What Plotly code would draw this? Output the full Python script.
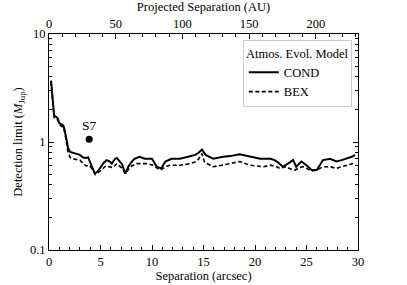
import plotly.graph_objects as go

# COND model detection limit
cond_x = [0.2, 0.35, 0.5, 0.65, 0.85, 1.0, 1.2, 1.4, 1.55, 1.7, 1.85, 2.05, 2.3, 2.5, 2.8, 3.0,
          3.3, 3.5, 3.8, 4.1, 4.45, 4.7, 4.95, 5.3, 5.6, 5.9, 6.1, 6.4, 6.6, 6.9, 7.1, 7.4, 7.7,
          8.0, 8.3, 8.8, 9.3, 10.0, 10.45, 10.9, 11.3, 11.9, 12.7, 13.5, 14.2, 14.5, 14.85, 15.2,
          15.5, 15.95, 16.9, 17.6, 18.5, 19.0, 19.5, 20.5, 21.5, 21.9, 22.3, 22.7, 23.2, 23.7,
          24.0, 24.5, 25.0, 25.5, 26.0, 26.6, 27.3, 27.9, 28.4, 28.9, 29.4, 29.7]
cond_y = [3.7, 2.5, 1.75, 1.72, 1.66, 1.5, 1.45, 1.42, 1.25, 1.0, 0.88, 0.81, 0.80, 0.79, 0.77, 0.76,
          0.72, 0.71, 0.72, 0.62, 0.51, 0.53, 0.57, 0.64, 0.68, 0.66, 0.63, 0.70, 0.71, 0.66, 0.62, 0.51, 0.59,
          0.65, 0.70, 0.73, 0.70, 0.70, 0.59, 0.57, 0.66, 0.70, 0.70, 0.73, 0.76, 0.79, 0.85, 0.76,
          0.73, 0.70, 0.73, 0.74, 0.77, 0.75, 0.73, 0.70, 0.70, 0.68, 0.64, 0.59, 0.63, 0.68,
          0.59, 0.66, 0.61, 0.55, 0.55, 0.68, 0.70, 0.66, 0.68, 0.70, 0.73, 0.76]

# BEX model detection limit
bex_x = [0.2, 0.35, 0.5, 0.65, 0.85, 1.0, 1.2, 1.4, 1.55, 1.7, 1.85, 2.05, 2.3, 2.6, 3.0, 3.3, 3.6,
         3.9, 4.2, 4.5, 4.8, 5.1, 5.5, 5.9, 6.2, 6.6, 6.9, 7.1, 7.4, 7.9, 8.5, 9.5, 10.1, 10.8, 11.2,
         11.7, 12.7, 13.7, 14.3, 14.55, 14.85, 15.1, 15.95, 16.9, 17.6, 18.5, 19.5, 20.8, 21.5, 22.1,
         22.4, 23.0, 23.5, 23.9, 24.3, 24.7, 25.1, 25.5, 26.0, 26.6, 27.3, 27.9, 28.4, 28.9, 29.5, 29.7]
bex_y = [3.6, 2.4, 1.68, 1.66, 1.6, 1.45, 1.4, 1.36, 1.2, 0.95, 0.8, 0.72, 0.70, 0.69, 0.68, 0.63, 0.60,
         0.61, 0.56, 0.50, 0.52, 0.55, 0.60, 0.59, 0.58, 0.63, 0.60, 0.57, 0.51, 0.59, 0.63, 0.63, 0.61, 0.55, 0.58,
         0.61, 0.61, 0.63, 0.66, 0.70, 0.78, 0.65, 0.59, 0.61, 0.63, 0.66, 0.61, 0.59, 0.61, 0.59,
         0.57, 0.59, 0.56, 0.55, 0.58, 0.59, 0.56, 0.54, 0.55, 0.59, 0.59, 0.57, 0.59, 0.61, 0.63, 0.64]

# Candidate S7
s7_x = [3.9]
s7_y = [1.06]
s7_label = ["S7"]

x_ticks = [0, 5, 10, 15, 20, 25, 30]
au_ticks = [0, 50, 100, 150, 200]
y_ticks = [0.1, 1, 10]
y_ticklabels = ["0.1", "1", "10"]
y_minor = [0.2, 0.3, 0.4, 0.5, 0.6, 0.7, 0.8, 0.9, 2, 3, 4, 5, 6, 7, 8, 9]
distance_pc = 7.72

FONT = "Liberation Serif, DejaVu Serif, serif"
FS = 12.5
fig = go.Figure()
fig.add_trace(go.Scatter(x=cond_x, y=cond_y, mode="lines", name="COND",
                         line=dict(color="black", width=2)))
fig.add_trace(go.Scatter(x=bex_x, y=bex_y, mode="lines", name="BEX",
                         line=dict(color="black", width=1.6, dash="4px,2.5px")))
fig.add_trace(go.Scatter(x=s7_x, y=s7_y, mode="markers", showlegend=False,
                         marker=dict(color="black", size=7)))
# invisible traces for top / right axes
fig.add_trace(go.Scatter(x=[0], y=[1], xaxis="x2", mode="markers",
                         marker=dict(opacity=0), showlegend=False, hoverinfo="skip"))
fig.add_trace(go.Scatter(x=[0], y=[1], yaxis="y2", mode="markers",
                         marker=dict(opacity=0), showlegend=False, hoverinfo="skip"))

fig.add_annotation(x=s7_x[0], y=0.025, yref="y", text=s7_label[0], showarrow=False,
                   yshift=14, font=dict(family=FONT, size=13.5, color="black"))

axcommon = dict(showgrid=False, zeroline=False, showline=True, linecolor="black", linewidth=1,
                ticks="inside", tickcolor="black", ticklen=5, automargin=False,
                tickfont=dict(family=FONT, size=FS, color="black"))

fig.update_layout(
    width=407, height=285,
    margin=dict(l=49, r=49, t=34, b=35),
    paper_bgcolor="white", plot_bgcolor="white",
    font=dict(family=FONT, color="black"),
    xaxis=dict(range=[0, 30], tickvals=x_ticks,
               title=dict(text="Separation (arcsec)", font=dict(family=FONT, size=FS), standoff=2),
               minor=dict(ticks="inside", dtick=1, ticklen=3, tickcolor="black"),
               **axcommon),
    xaxis2=dict(range=[0, 30 * distance_pc], tickvals=au_ticks, overlaying="x", side="top",
                title=dict(text="Projected Separation (AU)", font=dict(family=FONT, size=FS), standoff=2),
                minor=dict(ticks="inside", dtick=10, ticklen=3, tickcolor="black"),
                **axcommon),
    yaxis=dict(type="log", range=[-1, 1], tickvals=y_ticks, ticktext=y_ticklabels,
               title=dict(text="Detection limit (<i>M</i><sub>Jup</sub>)", font=dict(family=FONT, size=FS), standoff=4),
               minor=dict(ticks="inside", tickvals=y_minor, ticklen=3, tickcolor="black"),
               **axcommon),
    yaxis2=dict(type="log", range=[-1, 1], tickvals=y_ticks, showticklabels=False,
                overlaying="y", side="right",
                minor=dict(ticks="inside", tickvals=y_minor, ticklen=3, tickcolor="black"),
                **axcommon),
    legend=dict(x=0.98, y=0.97, xanchor="right", yanchor="top",
                bgcolor="white", bordercolor="#cccccc", borderwidth=1,
                title=dict(text="Atmos. Evol. Model", side="top center", font=dict(family=FONT, size=FS)),
                font=dict(family=FONT, size=FS), tracegroupgap=0, itemwidth=30),
)
fig.write_html("out.html", config={"displayModeBar": False},
               post_script="document.body.style.margin='0';document.body.style.padding='0';")
